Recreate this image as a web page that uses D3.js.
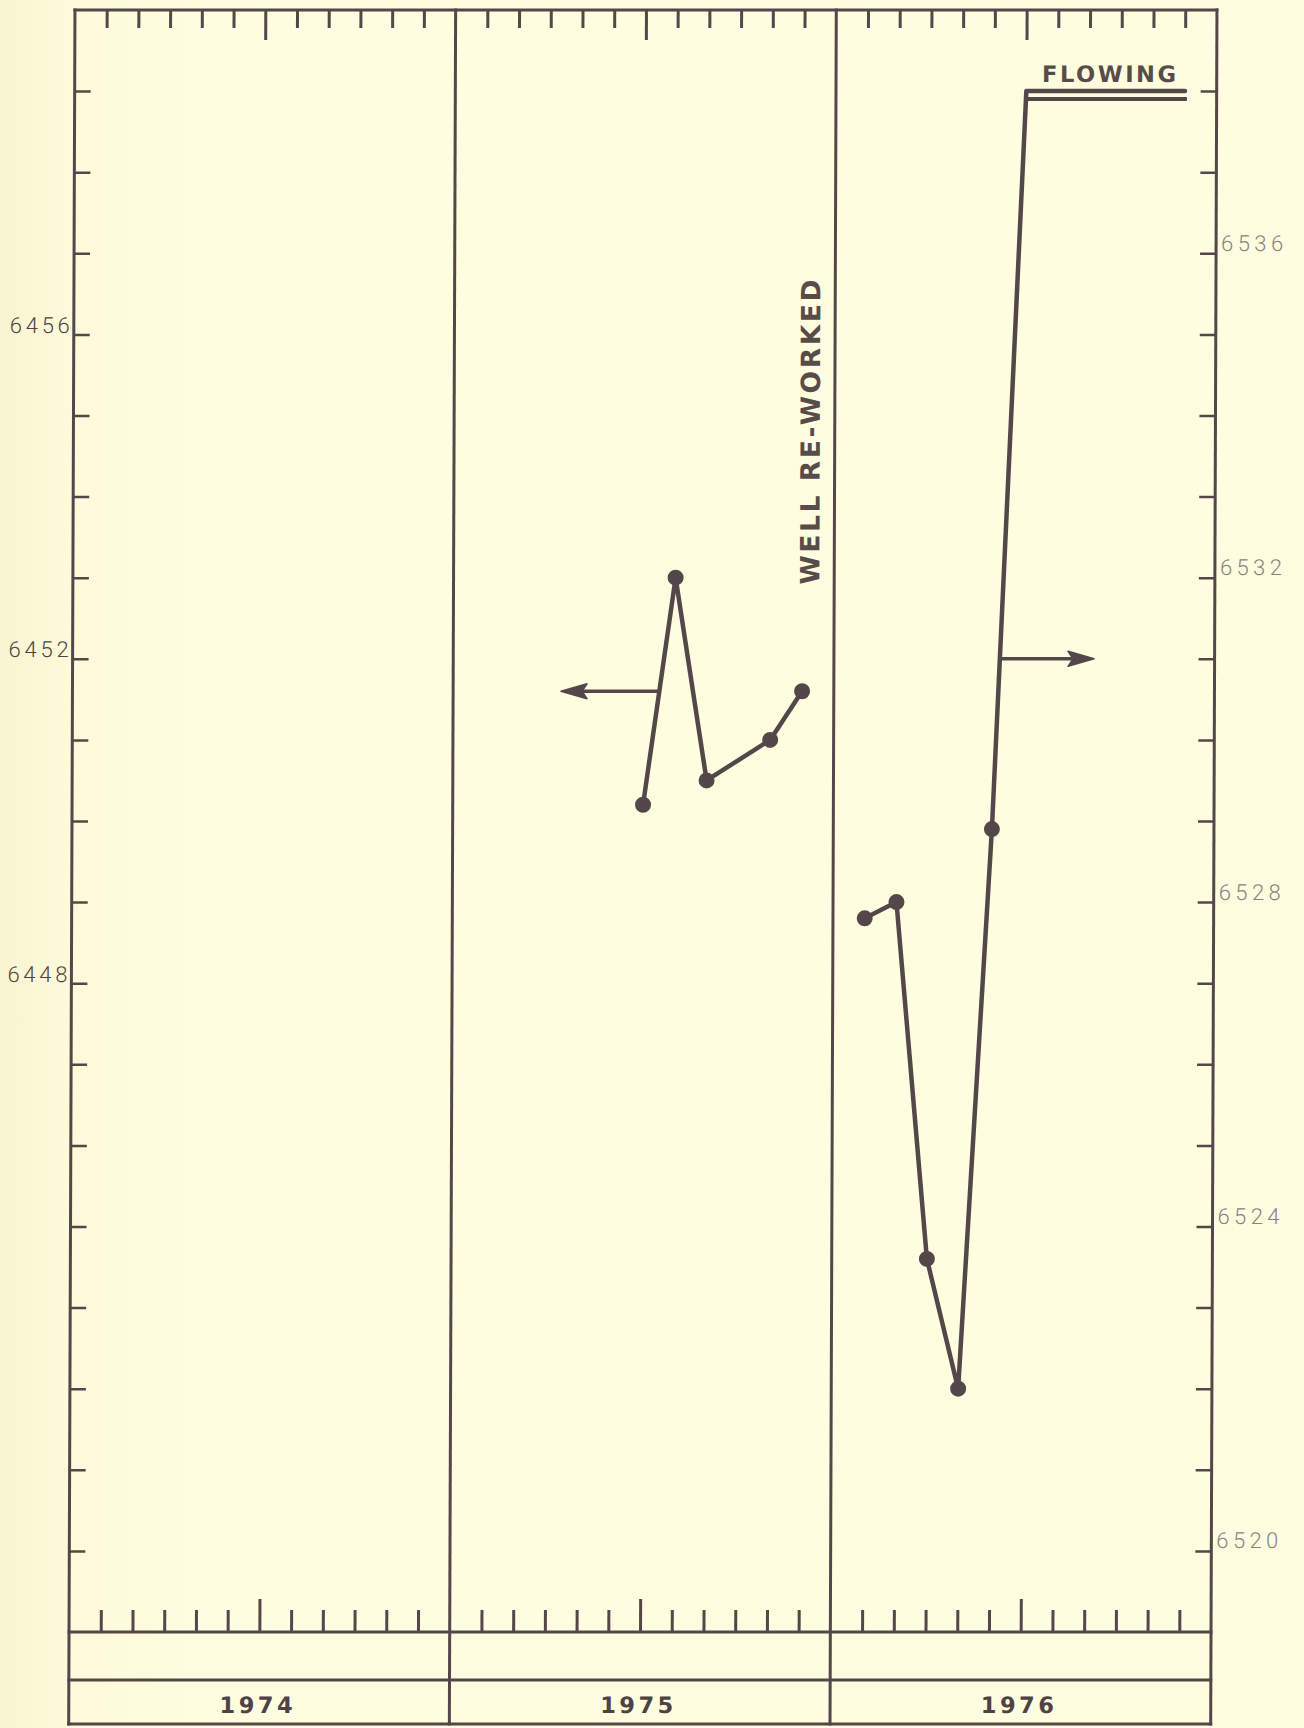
<!DOCTYPE html>
<html>
<head>
<meta charset="utf-8">
<script src="https://cdn.jsdelivr.net/npm/d3@7"></script>
<style>
  html, body { margin: 0; padding: 0; background: #fdfcdd; }
  svg { display: block; }
</style>
</head>
<body>
<svg id="chart" width="1304" height="1728"></svg>
<script>
// Hydrograph of water levels, 1974-1976, two wells on separate scales.

const years = ["1974", "1975", "1976"];

// Well read on the left-hand scale (feet), 1975
const leftDates = ["1975-07", "1975-08", "1975-09", "1975-11", "1975-12"];
const leftLevels = [6450.2, 6453.0, 6450.5, 6451.0, 6451.6];

// Well read on the right-hand scale (feet), 1976, after re-working
const rightDates = ["1976-02", "1976-03", "1976-04", "1976-05", "1976-06"];
const rightLevels = [6527.8, 6528.0, 6523.6, 6522.0, 6528.9];

// Flowing period: level held at the top of the right-hand scale
const flowingDates = ["1976-07", "1976-12"];
const flowingLevel = 6538;

// Tick values and the ticks that carry a label
const leftTicks = d3.range(6441, 6460);
const leftLabels = [6448, 6452, 6456];
const rightTicks = d3.range(6520, 6539);
const rightLabels = [6520, 6524, 6528, 6532, 6536];

// Pointer arrows: the level they leave the line at, and the month (from Jan 1974) of the tip
const leftPointer = { level: 6451.6, tipMonth: 15.4 };
const rightPointer = { level: 6531.0, tipMonth: 32.2 };

// ---------------------------------------------------------------------------
const ink = "#53474a";
const plotTop = 10, plotBottom = 1632, dateRow = 1680, frameBottom = 1724;
const boldFont = "'DejaVu Sans', 'Liberation Sans', sans-serif";
const thinFont = "Roboto, 'Liberation Sans', sans-serif";

const monthIndex = s => {
  const [y, m] = s.split("-").map(Number);
  return (y - 1974) * 12 + (m - 1);
};

const x = d3.scaleLinear().domain([0, 36]).range([75, 1217]);
const yL = d3.scaleLinear().domain([6440, 6460]).range([plotBottom, plotTop]);
const yR = d3.scaleLinear().domain([6519, 6539]).range([plotBottom, plotTop]);

const svg = d3.select("#chart");

// faint darker paper tone along the left margin
const defs = svg.append("defs");
const grad = defs.append("linearGradient").attr("id", "paper").attr("x1", 0).attr("x2", 1);
grad.append("stop").attr("offset", "0%").attr("stop-color", "#f9f4d2");
grad.append("stop").attr("offset", "5%").attr("stop-color", "#fcfad9");
grad.append("stop").attr("offset", "15%").attr("stop-color", "#fefddf");
grad.append("stop").attr("offset", "100%").attr("stop-color", "#fefddf");
svg.append("rect").attr("width", 1304).attr("height", 1728).attr("fill", "url(#paper)");

// the drawing is very slightly sheared, like the printed sheet
const g = svg.append("g").attr("transform", "skewX(-0.21)");

// ---- month ticks, top and bottom ----
const monthTicks = d3.range(1, 36).filter(m => m % 12 !== 0);

const topAxis = g.append("g")
  .attr("transform", `translate(0,${plotTop})`)
  .call(d3.axisBottom(x).tickValues(monthTicks).tickSizeInner(18).tickSizeOuter(0).tickFormat(""));
topAxis.select(".domain").remove();
topAxis.attr("color", ink);
topAxis.selectAll(".tick line").attr("stroke-width", 3)
  .attr("y2", d => (d % 12 === 6 ? 30 : 18));

const botAxis = g.append("g")
  .attr("transform", `translate(0,${plotBottom})`)
  .call(d3.axisTop(x).tickValues(monthTicks).tickSizeInner(22).tickSizeOuter(0).tickFormat(""));
botAxis.select(".domain").remove();
botAxis.attr("color", ink);
botAxis.selectAll(".tick line").attr("stroke-width", 3)
  .attr("y2", d => (d % 12 === 6 ? -33 : -22));

// ---- level scales ----
const leftAxis = g.append("g")
  .attr("transform", `translate(${x(0)},0)`)
  .call(d3.axisLeft(yL).tickValues(leftTicks).tickSizeInner(-16).tickSizeOuter(0).tickPadding(4)
    .tickFormat(d => (leftLabels.includes(d) ? String(d) : "")));
leftAxis.select(".domain").remove();
leftAxis.attr("color", ink)
  .attr("font-family", thinFont)
  .attr("font-weight", 300).attr("font-size", 22);
leftAxis.selectAll(".tick line").attr("stroke-width", 2.5);
leftAxis.selectAll(".tick text").filter(d => leftLabels.includes(d))
  .attr("dy", -2).attr("fill", "#4f4441")
  .attr("textLength", 60).attr("lengthAdjust", "spacing");

const rightAxis = g.append("g")
  .attr("transform", `translate(${x(36)},0)`)
  .call(d3.axisRight(yR).tickValues(rightTicks).tickSizeInner(-16).tickSizeOuter(0).tickPadding(5)
    .tickFormat(d => (rightLabels.includes(d) ? String(d) : "")));
rightAxis.select(".domain").remove();
rightAxis.attr("color", ink)
  .attr("font-family", thinFont)
  .attr("font-weight", 300).attr("font-size", 22);
rightAxis.selectAll(".tick line").attr("stroke-width", 2.5);
rightAxis.selectAll(".tick text").filter(d => rightLabels.includes(d))
  .attr("dy", -3).attr("fill", "#8a827e")
  .attr("textLength", 62).attr("lengthAdjust", "spacing");

// ---- frame: year panels and the date band ----
const frame = g.append("g").attr("stroke", ink).attr("stroke-width", 3)
  .attr("stroke-linecap", "square").attr("fill", "none");
[0, 12, 24, 36].forEach(m => {
  frame.append("line").attr("x1", x(m)).attr("x2", x(m)).attr("y1", plotTop).attr("y2", frameBottom);
});
[plotTop, plotBottom, dateRow, frameBottom].forEach(yy => {
  frame.append("line").attr("x1", x(0)).attr("x2", x(36)).attr("y1", yy).attr("y2", yy);
});

// year labels in the bottom band
g.append("g").selectAll("text").data(years).join("text")
  .attr("x", (d, i) => x(i * 12 + 6) - 3)
  .attr("y", 1713)
  .attr("text-anchor", "middle")
  .attr("font-family", boldFont)
  .attr("font-weight", 700).attr("font-size", 22.5)
  .attr("textLength", 73).attr("lengthAdjust", "spacing")
  .attr("fill", "#4e4244")
  .text(d => d);

// ---- data lines ----
const leftPts = leftDates.map((d, i) => [x(monthIndex(d)), yL(leftLevels[i])]);
const rightPts = rightDates.map((d, i) => [x(monthIndex(d)), yR(rightLevels[i])]);
const flowPts = flowingDates.map(d => [x(monthIndex(d)), yR(flowingLevel)]);

const line = d3.line();
const data = g.append("g").attr("stroke", ink).attr("fill", "none")
  .attr("stroke-width", 4.5).attr("stroke-linejoin", "round").attr("stroke-linecap", "round");

data.append("path").attr("d", line(leftPts));
data.append("path").attr("d", line(rightPts.concat(flowPts)));

// second rule of the double "flowing" line
const p5 = rightPts[rightPts.length - 1], c0 = flowPts[0];
const yLow = c0[1] + 8;
const xLow = p5[0] + (c0[0] - p5[0]) * (p5[1] - yLow) / (p5[1] - c0[1]);
data.append("line")
  .attr("x1", xLow + 1).attr("x2", flowPts[1][0] + 2)
  .attr("y1", yLow).attr("y2", yLow)
  .attr("stroke-width", 4)
  .attr("stroke-linecap", "butt");

// dots
g.append("g").attr("fill", ink)
  .selectAll("circle").data(leftPts.concat(rightPts)).join("circle")
  .attr("cx", d => d[0]).attr("cy", d => d[1]).attr("r", 8);

// ---- pointer arrows ----
function crossing(pts, yy) {
  for (let i = 0; i < pts.length - 1; i++) {
    const [ax, ay] = pts[i], [bx, by] = pts[i + 1];
    if ((ay - yy) * (by - yy) <= 0 && ay !== by) {
      return ax + (bx - ax) * (ay - yy) / (ay - by);
    }
  }
  return pts[0][0];
}
function arrow(fromX, yy, tipX) {
  const dir = Math.sign(tipX - fromX);
  const base = tipX - dir * 26;
  g.append("line").attr("x1", fromX).attr("x2", base + dir * 4)
    .attr("y1", yy).attr("y2", yy)
    .attr("stroke", ink).attr("stroke-width", 3.5);
  g.append("path")
    .attr("d", `M${tipX},${yy} L${base},${yy - 7.5} L${base + dir * 5},${yy} L${base},${yy + 7.5} Z`)
    .attr("fill", ink).attr("stroke", ink).attr("stroke-width", 1.5).attr("stroke-linejoin", "round");
}
{
  const yy = yL(leftPointer.level);
  arrow(crossing(leftPts, yy), yy, x(leftPointer.tipMonth));
}
{
  const yy = yR(rightPointer.level);
  arrow(crossing(rightPts.concat(flowPts), yy), yy, x(rightPointer.tipMonth));
}

// ---- annotations ----
g.append("text")
  .attr("x", flowPts[1][0] - 9).attr("y", yR(flowingLevel) - 9.5)
  .attr("text-anchor", "end")
  .attr("font-family", boldFont)
  .attr("font-weight", 700).attr("font-size", 22.5)
  .attr("textLength", 134).attr("lengthAdjust", "spacing")
  .attr("fill", "#584c4a")
  .text("FLOWING");

g.append("text")
  .attr("transform", `translate(${x(24) - 15},432) rotate(-90)`)
  .attr("text-anchor", "middle")
  .attr("font-family", boldFont)
  .attr("font-weight", 700).attr("font-size", 26.5)
  .attr("textLength", 305).attr("lengthAdjust", "spacing")
  .attr("fill", "#584c4a")
  .text("WELL RE-WORKED");
</script>
</body>
</html>
